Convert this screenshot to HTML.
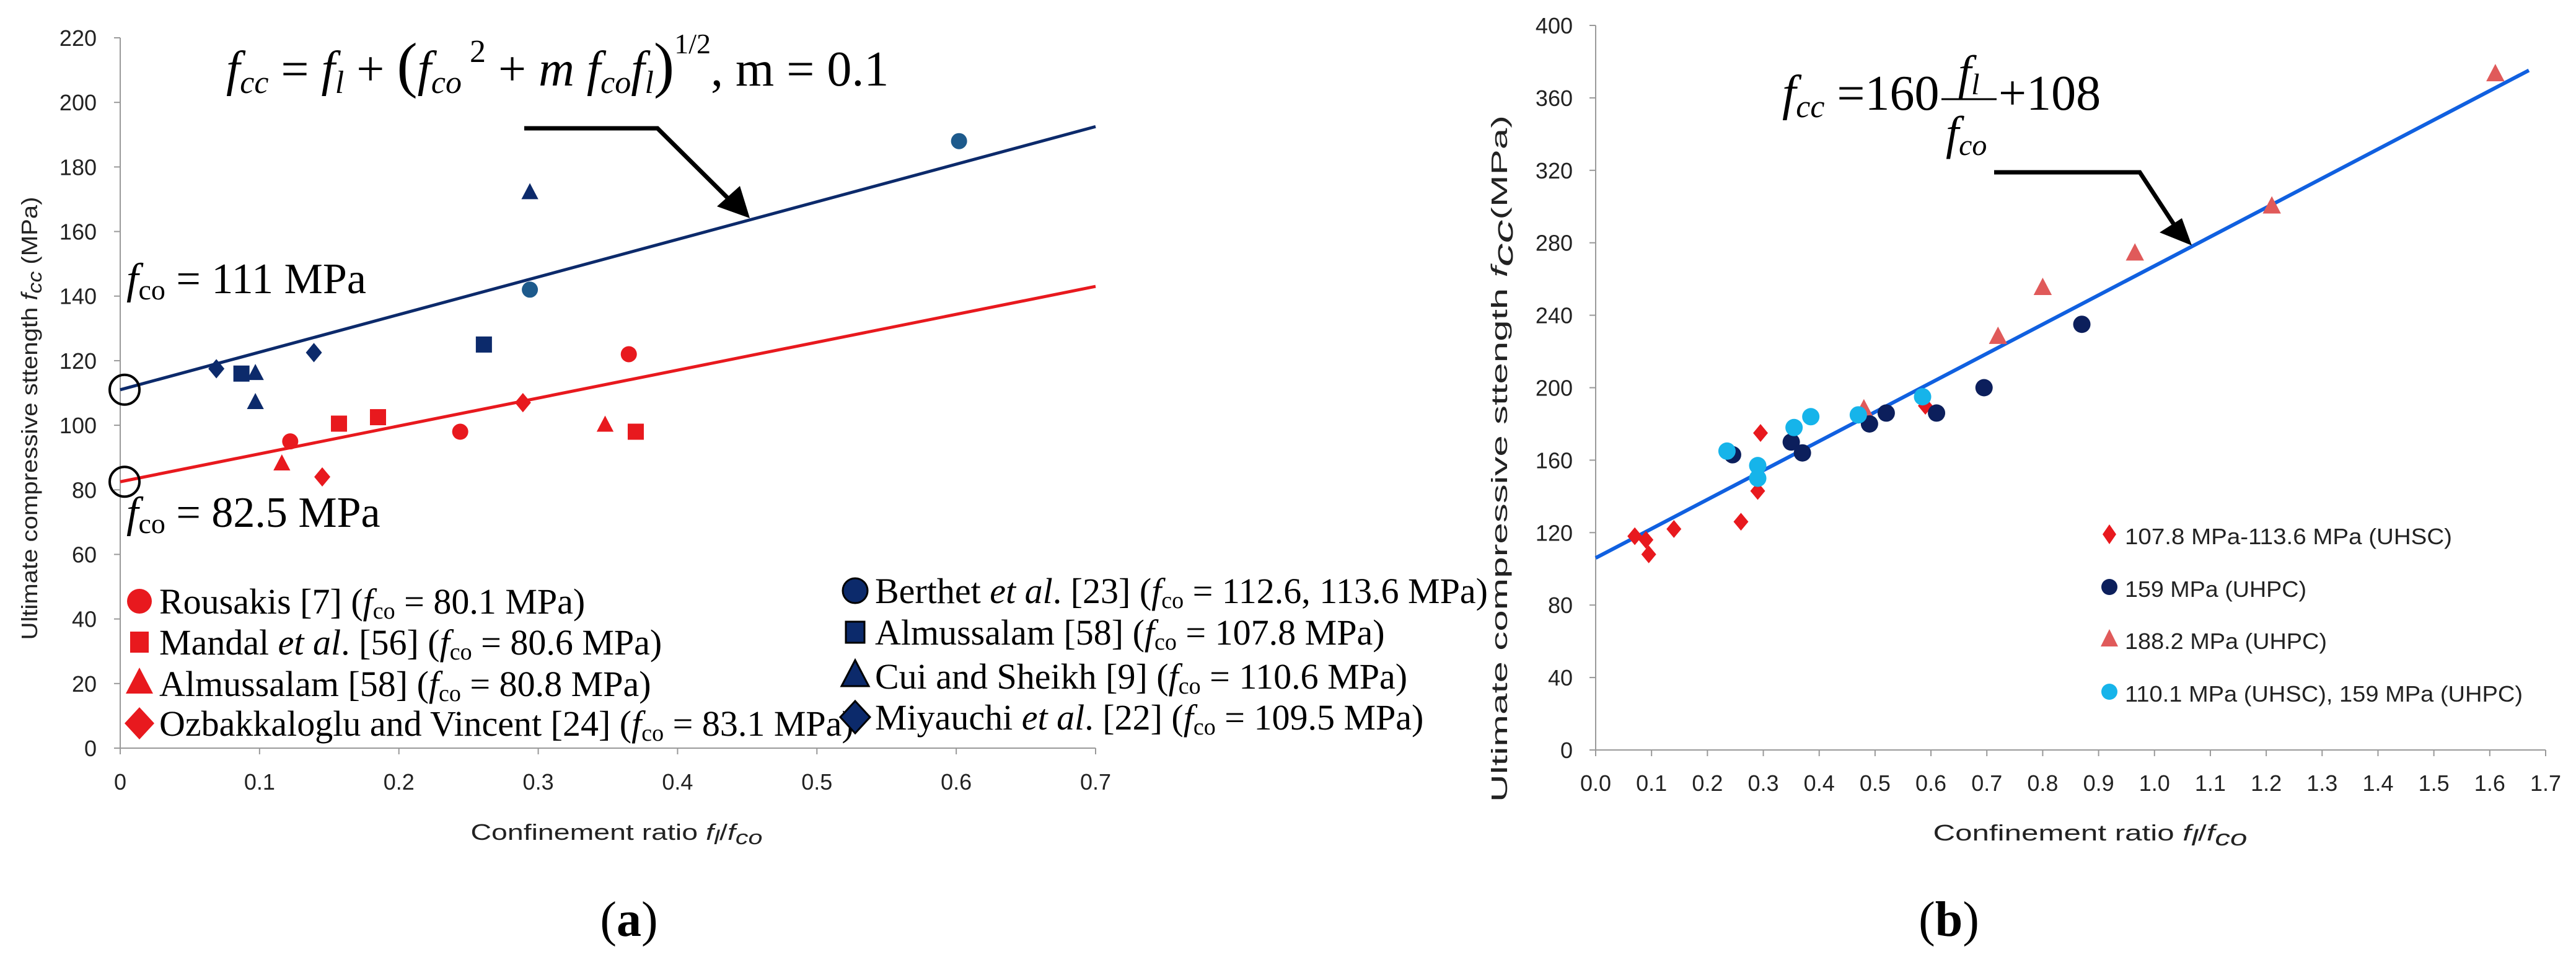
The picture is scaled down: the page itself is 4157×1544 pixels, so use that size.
<!DOCTYPE html>
<html><head><meta charset="utf-8"><style>
body{margin:0;background:#fff}
svg{display:block}
.t{font-family:"Liberation Sans",sans-serif;font-size:36px;fill:#222}
.s{font-family:"Liberation Serif",serif;fill:#000}
</style></head><body>
<svg id="svg" width="4157" height="1544" viewBox="0 0 4157 1544" xmlns="http://www.w3.org/2000/svg">
<g id="ga"></g>
<g id="gb"></g>
</svg>
<script>
// ---- Chart A data ----
const aXTicks=[0,0.1,0.2,0.3,0.4,0.5,0.6,0.7];
const aYTicks=[0,20,40,60,80,100,120,140,160,180,200,220];
const aRousakisX=[0.122,0.244,0.365];const aRousakisY=[95,98,122];
const aMandalX=[0.157,0.185,0.37];const aMandalY=[100.5,102.5,98];
const aAlmRX=[0.116,0.348];const aAlmRY=[88,100];
const aOzbX=[0.145,0.289];const aOzbY=[84,107];
const aBerthetX=[0.294,0.602];const aBerthetY=[142,188];
const aAlmBX=[0.087,0.261];const aAlmBY=[116,125];
const aCuiX=[0.097,0.097,0.294];const aCuiY=[116,107,172];
const aMiyX=[0.069,0.139];const aMiyY=[117.5,122.5];
const aLineBlue=[111,192.5];const aLineRed=[82.5,143];
// ---- Chart B data ----
const bXTicks=[0,0.1,0.2,0.3,0.4,0.5,0.6,0.7,0.8,0.9,1.0,1.1,1.2,1.3,1.4,1.5,1.6,1.7];
const bYTicks=[0,40,80,120,160,200,240,280,320,360,400];
const bUHSCX=[0.07,0.09,0.095,0.14,0.26,0.29,0.295,0.59];const bUHSCY=[118,116,108,122,126,143,175,190];
const bTriX=[0.48,0.72,0.80,0.965,1.21,1.61];const bTriY=[188,228,255,274,300,373];
const bNavyX=[0.245,0.35,0.37,0.49,0.52,0.61,0.695,0.87];const bNavyY=[163,170,164,180,186,186,200,235];
const bCyanX=[0.235,0.29,0.29,0.355,0.385,0.47,0.585];const bCyanY=[165,157,150,178,184,185,195];
const bLine=[106,160,108];

const NS="http://www.w3.org/2000/svg";
function el(p,tag,at,txt){const e=document.createElementNS(NS,tag);for(const k in at)e.setAttribute(k,at[k]);if(txt!==undefined)e.textContent=txt;p.appendChild(e);return e;}
function marker(p,type,cx,cy,r,fill){
  let e;
  if(type==='c')e=el(p,'circle',{cx:cx,cy:cy,r:r,fill:fill});
  else if(type==='s')e=el(p,'rect',{x:cx-r,y:cy-r,width:2*r,height:2*r,fill:fill});
  else if(type==='t')e=el(p,'polygon',{points:`${cx},${cy-r*1.2} ${cx-r*1.05},${cy+r*0.8} ${cx+r*1.05},${cy+r*0.8}`,fill:fill});
  else e=el(p,'polygon',{points:`${cx},${cy-r*1.2} ${cx+r},${cy} ${cx},${cy+r*1.2} ${cx-r},${cy}`,fill:fill});
  return e;
}
const ga=document.getElementById('ga');
const ax=v=>194+v/0.7*(1768-194), ay=v=>1207-v/220*(1207-61);
el(ga,'line',{x1:194,y1:61,x2:194,y2:1207,stroke:'#999','stroke-width':2});
el(ga,'line',{x1:194,y1:1207,x2:1768,y2:1207,stroke:'#999','stroke-width':2});
aYTicks.forEach(v=>{el(ga,'line',{x1:184,y1:ay(v),x2:194,y2:ay(v),stroke:'#999','stroke-width':2});
 const t=el(ga,'text',{x:156,y:ay(v)+13,'text-anchor':'end',class:'t'},v);
 });
aXTicks.forEach(v=>{el(ga,'line',{x1:ax(v),y1:1207,x2:ax(v),y2:1217,stroke:'#999','stroke-width':2});
 const t=el(ga,'text',{x:ax(v),y:1274,'text-anchor':'middle',class:'t'},v);
 });
let l=el(ga,'line',{x1:ax(0),y1:ay(aLineBlue[0]),x2:ax(0.7),y2:ay(aLineBlue[1]),stroke:'#0c2a6b','stroke-width':5});

l=el(ga,'line',{x1:ax(0),y1:ay(aLineRed[0]),x2:ax(0.7),y2:ay(aLineRed[1]),stroke:'#e8191e','stroke-width':5});

el(ga,'circle',{cx:ax(0)+7,cy:ay(111),r:24,fill:'none',stroke:'#000','stroke-width':4});
el(ga,'circle',{cx:ax(0)+7,cy:ay(82.5),r:24,fill:'none',stroke:'#000','stroke-width':4});
const RED='#e8191e',NAVY='#0c2a6b',STEEL='#1d5a8c';
function series(p,xs,ys,fx,fy,type,r,fill,name){xs.forEach((x,i)=>{const m=marker(p,type,fx(x),fy(ys[i]),r,fill);
 });}
series(ga,aRousakisX,aRousakisY,ax,ay,'c',13,RED,'rousakis-point');
series(ga,aMandalX,aMandalY,ax,ay,'s',13,RED,'mandal-point');
series(ga,aAlmRX,aAlmRY,ax,ay,'t',13,RED,'almussalam-red-point');
series(ga,aOzbX,aOzbY,ax,ay,'d',13,RED,'ozbakkaloglu-point');
series(ga,aBerthetX,aBerthetY,ax,ay,'c',13,STEEL,'berthet-point');
series(ga,aAlmBX,aAlmBY,ax,ay,'s',13,NAVY,'almussalam-blue-point');
series(ga,aCuiX,aCuiY,ax,ay,'t',13,NAVY,'cui-sheikh-point');
series(ga,aMiyX,aMiyY,ax,ay,'d',13,NAVY,'miyauchi-point');
</script>
<script>
(function(){
const ga=document.getElementById('ga');
ga.insertAdjacentHTML('beforeend',`
<polyline points="846,207 1061,207 1185,330" fill="none" stroke="#000" stroke-width="7"/>
<polygon points="1210,352 1157,333 1194,300" fill="#000"/>
<text class="s" x="365" y="138" font-size="80" font-style="italic">f<tspan font-size="52" dy="12">cc</tspan><tspan dy="-12" font-style="normal"> = </tspan>f<tspan font-size="52" dy="12">l</tspan><tspan dy="-12" font-style="normal"> + </tspan><tspan font-style="normal" font-size="100">(</tspan>f<tspan font-size="52" dy="12">co</tspan><tspan font-size="52" dy="-50" font-style="normal"> 2</tspan><tspan dy="38" font-style="normal"> + </tspan>m f<tspan font-size="52" dy="12">co</tspan><tspan dy="-12">f</tspan><tspan font-size="52" dy="12">l</tspan><tspan font-style="normal" font-size="100" dy="-12">)</tspan><tspan font-size="46" dy="-52" font-style="normal">1/2</tspan><tspan dy="52" font-style="normal">, m = 0.1</tspan></text>
<text class="s" x="204" y="473" font-size="70"><tspan font-style="italic">f</tspan><tspan font-size="46" dy="10">co</tspan><tspan dy="-10"> = 111 MPa</tspan></text>
<text class="s" x="204" y="850" font-size="70"><tspan font-style="italic">f</tspan><tspan font-size="46" dy="10">co</tspan><tspan dy="-10"> = 82.5 MPa</tspan></text>
<text class="t" font-size="46" transform="translate(60,675) rotate(-90)" text-anchor="middle" textLength="715" lengthAdjust="spacingAndGlyphs">Ultimate compressive sttength <tspan font-style="italic">f</tspan><tspan font-style="italic" font-size="32" dy="7">cc</tspan><tspan dy="-7"> (MPa)</tspan></text>
<text class="t" font-size="46" x="995" y="1355" text-anchor="middle" textLength="471" lengthAdjust="spacingAndGlyphs">Confinement ratio  <tspan font-style="italic">f</tspan><tspan font-style="italic" font-size="32" dy="7">l</tspan><tspan dy="-7">/</tspan><tspan font-style="italic">f</tspan><tspan font-style="italic" font-size="32" dy="7">co</tspan></text>
<text class="s" x="1015" y="1510" font-size="80" text-anchor="middle">(<tspan font-weight="bold">a</tspan>)</text>
`);
const leg=[[225,970,'c','#e8191e','Rousakis [7] (','80.1'],[225,1036,'s','#e8191e','Mandal <i> [56] (','80.6'],[225,1103,'t','#e8191e','Almussalam [58] (','80.8'],[225,1167,'d','#e8191e','Ozbakkaloglu and Vincent [24] (','83.1'],
[1380,953,'c','#0c2a6b','Berthet <i> [23] (','112.6, 113.6'],[1380,1020,'s','#0c2a6b','Almussalam [58] (','107.8'],[1380,1091,'t','#0c2a6b','Cui and Sheikh [9] (','110.6'],[1380,1157,'d','#0c2a6b','Miyauchi <i> [22] (','109.5']];
const NS="http://www.w3.org/2000/svg";
leg.forEach(d=>{
 const g=document.createElementNS(NS,'g');ga.appendChild(g);
 
 
 const r=d[2]==='c'?20:17;let m;
 if(d[2]==='c'){m=document.createElementNS(NS,'circle');m.setAttribute('cx',d[0]);m.setAttribute('cy',d[1]);m.setAttribute('r',r);}
 else if(d[2]==='s'){m=document.createElementNS(NS,'rect');m.setAttribute('x',d[0]-15);m.setAttribute('y',d[1]-17);m.setAttribute('width',30);m.setAttribute('height',34);}
 else if(d[2]==='t'){m=document.createElementNS(NS,'polygon');m.setAttribute('points',`${d[0]},${d[1]-26} ${d[0]-22},${d[1]+16} ${d[0]+22},${d[1]+16}`);}
 else {m=document.createElementNS(NS,'polygon');m.setAttribute('points',`${d[0]},${d[1]-26} ${d[0]+24},${d[1]} ${d[0]},${d[1]+26} ${d[0]-24},${d[1]}`);}
 m.setAttribute('fill',d[3]);m.setAttribute('stroke','#000');m.setAttribute('stroke-width',d[3]==='#0c2a6b'?3:0);g.appendChild(m);
 const t=document.createElementNS(NS,'text');t.setAttribute('x',d[0]+32);t.setAttribute('y',d[1]+20);t.setAttribute('class','s');t.setAttribute('font-size','58');
 const pre=d[4].split('<i>');
 t.innerHTML=pre.length>1?`${pre[0]}<tspan font-style="italic">et al</tspan>.${pre[1]}<tspan font-style="italic">f</tspan><tspan font-size="38" dy="8">co</tspan><tspan dy="-8"> = ${d[5]} MPa)</tspan>`:`${pre[0]}<tspan font-style="italic">f</tspan><tspan font-size="38" dy="8">co</tspan><tspan dy="-8"> = ${d[5]} MPa)</tspan>`;
 g.appendChild(t);
});
})();
</script>
<script>
(function(){
const gb=document.getElementById('gb');
const bx=v=>2575+v/1.7*(4108-2575), by=v=>1210-v/400*(1210-41);
el(gb,'line',{x1:2575,y1:41,x2:2575,y2:1210,stroke:'#999','stroke-width':2});
el(gb,'line',{x1:2575,y1:1210,x2:4108,y2:1210,stroke:'#999','stroke-width':2});
bYTicks.forEach(v=>{el(gb,'line',{x1:2565,y1:by(v),x2:2575,y2:by(v),stroke:'#999','stroke-width':2});
 const t=el(gb,'text',{x:2538,y:by(v)+13,'text-anchor':'end',class:'t'},v);
 });
bXTicks.forEach(v=>{el(gb,'line',{x1:bx(v),y1:1210,x2:bx(v),y2:1220,stroke:'#999','stroke-width':2});
 const t=el(gb,'text',{x:bx(v),y:1276,'text-anchor':'middle',class:'t'},v.toFixed(1));
 });
const l=el(gb,'line',{x1:bx(0),y1:by(bLine[0]),x2:bx(1.67),y2:by(bLine[1]*1.67+bLine[2]),stroke:'#1060e0','stroke-width':6});

series(gb,bTriX,bTriY,bx,by,'t',14,'#e05a5a','uhpc-188-point');
series(gb,bUHSCX,bUHSCY,bx,by,'d',12,'#e8191e','uhsc-point');
series(gb,bNavyX,bNavyY,bx,by,'c',14,'#0c1f5c','uhpc-159-point');
series(gb,bCyanX,bCyanY,bx,by,'c',14,'#16b4ea','mixed-point');
gb.insertAdjacentHTML('beforeend',`
<polyline points="3218,278 3453,278 3512,368" fill="none" stroke="#000" stroke-width="7"/>
<polygon points="3537,396 3485,375 3521,352" fill="#000"/>
<g class="s">
<text class="s" x="2876" y="177" font-size="80"><tspan font-style="italic">f</tspan><tspan font-style="italic" font-size="52" dy="12">cc</tspan><tspan dy="-12"> =160</tspan></text>
<line x1="3133" y1="160" x2="3222" y2="160" stroke="#000" stroke-width="3"/>
<text class="s" x="3160" y="142" font-size="76" font-style="italic">f<tspan font-size="48" dy="10">l</tspan></text>
<text class="s" x="3140" y="240" font-size="76" font-style="italic">f<tspan font-size="48" dy="10">co</tspan></text>
<text class="s" x="3225" y="177" font-size="80">+108</text></g>
<text class="t" font-size="62" transform="translate(2432,740) rotate(-90)" text-anchor="middle" textLength="1108" lengthAdjust="spacingAndGlyphs">Ultimate compressive sttength  <tspan font-style="italic">f</tspan><tspan font-style="italic" font-size="44" dy="9">cc</tspan><tspan dy="-9">(MPa)</tspan></text>
<text class="t" font-size="50" x="3373" y="1356" text-anchor="middle" textLength="507" lengthAdjust="spacingAndGlyphs">Confinement ratio  <tspan font-style="italic">f</tspan><tspan font-style="italic" font-size="36" dy="8">l</tspan><tspan dy="-8">/</tspan><tspan font-style="italic">f</tspan><tspan font-style="italic" font-size="36" dy="8">co</tspan></text>
<text class="s" x="3145" y="1510" font-size="80" text-anchor="middle">(<tspan font-weight="bold">b</tspan>)</text>
<g>
<polygon points="3404,846 3415,862 3404,878 3393,862" fill="#e8191e"/>
<text class="t" font-size="46" x="3429" y="878" textLength="528" lengthAdjust="spacingAndGlyphs">107.8 MPa-113.6 MPa (UHSC)</text>
<circle cx="3404" cy="947" r="13" fill="#0c1f5c"/>
<text class="t" font-size="46" x="3429" y="963" textLength="293" lengthAdjust="spacingAndGlyphs">159 MPa (UHPC)</text>
<polygon points="3404,1015 3418,1043 3390,1043" fill="#e05a5a"/>
<text class="t" font-size="46" x="3429" y="1047" textLength="326" lengthAdjust="spacingAndGlyphs">188.2 MPa (UHPC)</text>
<circle cx="3404" cy="1116" r="13" fill="#16b4ea"/>
<text class="t" font-size="46" x="3429" y="1132" textLength="642" lengthAdjust="spacingAndGlyphs">110.1 MPa (UHSC), 159 MPa (UHPC)</text>
</g>`);
})();
</script>
</body></html>
